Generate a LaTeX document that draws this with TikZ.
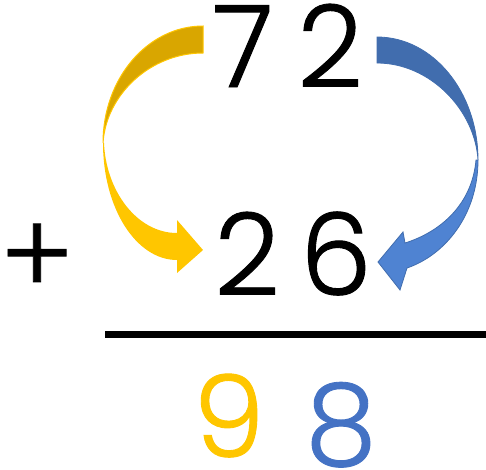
\documentclass[tikz,border=0pt]{standalone}
\usepackage{fontspec}
\IfFontExistsTF{Poppins Light}{\newfontfamily\dig{Poppins Light}[FakeBold=0.8]}{\newfontfamily\dig{Poppins}}
\definecolor{ylight}{HTML}{FFC600}
\definecolor{ydark}{HTML}{D9A600}
\definecolor{blight}{HTML}{4F83D2}
\definecolor{bdark}{HTML}{416DAE}
\definecolor{bnum}{HTML}{4472C4}
\tikzset{
  digit/.style={anchor=base, inner sep=0pt, font=\dig\fontsize{114}{114}\selectfont},
}
\begin{document}
\begin{tikzpicture}[x=1pt,y=-1pt]
\useasboundingbox (0,0) rectangle (486,469);
% digits
\node[digit] (d7) at (243,87) {7};
\node[digit] (d2) at (330,87) {2};
\node[digit] (e2) at (247,295) {2};
\node[digit] (e6) at (336,295) {6};
\node[digit, text=ylight] (r9) at (229,457) {9};
\node[digit, text=bnum] (r8) at (341,465) {8};
\node[digit] (plus) at (37,295) {+};
% rule
\coordinate (l1) at (105,334.5);
\coordinate (l2) at (486,334.5);
\draw[line width=6.5pt] (l1) -- (l2);
% yellow arrow
\filldraw[fill=ydark, draw=ylight, line width=1pt]
  (203,26) .. controls (148,26) and (103,78) .. (103,143)
  .. controls (106,95) and (150,53) .. (203,53) -- cycle;
\fill[ylight] (103,143) .. controls (103,208) and (136,260) .. (177,260)
  -- (177,273) -- (203,250) -- (177,220) -- (177,233)
  .. controls (137,233) and (106,191) .. (104,143) -- cycle;
% blue arrow
\filldraw[fill=bdark, draw=bdark, line width=0.8pt]
  (377,37) .. controls (433,37) and (478,92) .. (478,160)
  .. controls (475,110) and (430,63) .. (377,63) -- cycle;
\filldraw[fill=blight, draw=bdark, line width=0.8pt]
  (478,160) .. controls (478,215) and (445,255) .. (407,268)
  -- (400,290) -- (378,262) -- (403,232) -- (405,243)
  .. controls (440,232) and (472,205) .. (476,160) -- cycle;
\end{tikzpicture}
\end{document}
